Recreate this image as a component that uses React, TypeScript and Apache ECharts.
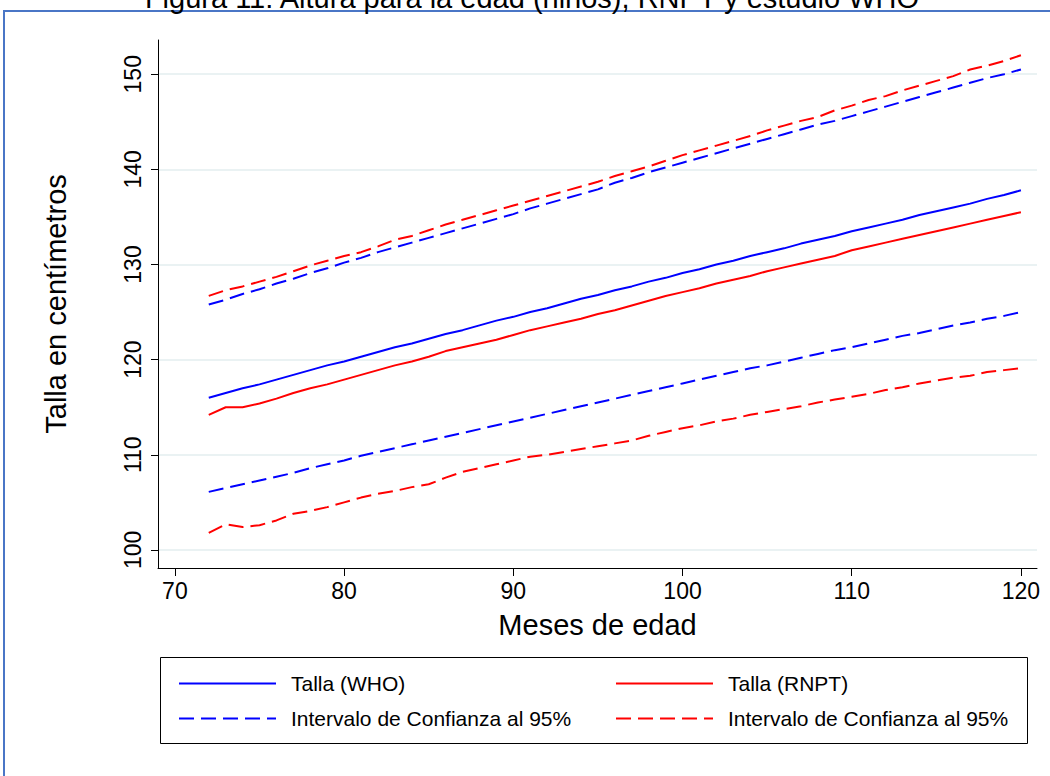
import React, { useEffect, useRef } from "react";
import * as echarts from "echarts";

const FONT = "'Liberation Sans', Arial, Helvetica, sans-serif";

const titleText = "Figura 11: Altura para la edad (niños), RNPT y estudio WHO";
const xAxisName = "Meses de edad";
const yAxisName = "Talla en centímetros";
const xTicks = [70, 80, 90, 100, 110, 120];
const yTicks = [100, 110, 120, 130, 140, 150];

const months = [
  72, 73, 74, 75, 76, 77, 78, 79, 80, 81, 82, 83, 84, 85, 86, 87, 88, 89, 90, 91, 92, 93, 94, 95, 96,
  97, 98, 99, 100, 101, 102, 103, 104, 105, 106, 107, 108, 109, 110, 111, 112, 113, 114, 115, 116,
  117, 118, 119, 120,
];

const whoMedian = [
  116.0, 116.5, 117.0, 117.4, 117.9, 118.4, 118.9, 119.4, 119.8, 120.3, 120.8, 121.3, 121.7, 122.2,
  122.7, 123.1, 123.6, 124.1, 124.5, 125.0, 125.4, 125.9, 126.4, 126.8, 127.3, 127.7, 128.2, 128.6,
  129.1, 129.5, 130.0, 130.4, 130.9, 131.3, 131.7, 132.2, 132.6, 133.0, 133.5, 133.9, 134.3, 134.7,
  135.2, 135.6, 136.0, 136.4, 136.9, 137.3, 137.8,
];

const rnptMedian = [
  114.2, 115.0, 115.0, 115.4, 115.9, 116.5, 117.0, 117.4, 117.9, 118.4, 118.9, 119.4, 119.8, 120.3,
  120.9, 121.3, 121.7, 122.1, 122.6, 123.1, 123.5, 123.9, 124.3, 124.8, 125.2, 125.7, 126.2, 126.7,
  127.1, 127.5, 128.0, 128.4, 128.8, 129.3, 129.7, 130.1, 130.5, 130.9, 131.5, 131.9, 132.3, 132.7,
  133.1, 133.5, 133.9, 134.3, 134.7, 135.1, 135.5,
];

const whoUpper = [
  125.8, 126.3, 126.9, 127.4, 128.0, 128.5, 129.1, 129.6, 130.2, 130.7, 131.3, 131.8, 132.3, 132.8,
  133.3, 133.8, 134.3, 134.8, 135.3, 135.9, 136.4, 136.9, 137.4, 137.9, 138.6, 139.1, 139.7, 140.2,
  140.7, 141.2, 141.7, 142.2, 142.7, 143.2, 143.7, 144.2, 144.7, 145.1, 145.6, 146.1, 146.6, 147.1,
  147.6, 148.1, 148.6, 149.1, 149.6, 150.0, 150.5,
];

const whoLower = [
  106.1, 106.5, 106.9, 107.3, 107.7, 108.1, 108.6, 109.0, 109.4, 109.9, 110.3, 110.7, 111.1, 111.5,
  111.9, 112.3, 112.7, 113.1, 113.5, 113.9, 114.3, 114.7, 115.1, 115.5, 115.9, 116.3, 116.7, 117.1,
  117.5, 117.9, 118.3, 118.7, 119.1, 119.4, 119.8, 120.2, 120.6, 121.0, 121.3, 121.7, 122.1, 122.5,
  122.8, 123.2, 123.6, 123.9, 124.3, 124.6, 125.0,
];

const rnptUpper = [
  126.7, 127.3, 127.7, 128.2, 128.7, 129.3, 129.9, 130.4, 130.9, 131.3, 131.9, 132.6, 133.0, 133.6,
  134.2, 134.7, 135.2, 135.7, 136.2, 136.7, 137.2, 137.7, 138.2, 138.7, 139.3, 139.8, 140.3, 140.9,
  141.5, 142.0, 142.5, 143.0, 143.5, 144.1, 144.6, 145.1, 145.5, 146.2, 146.7, 147.3, 147.7, 148.3,
  148.8, 149.3, 149.8, 150.5, 150.9, 151.4, 152.0,
];

const rnptLower = [
  101.8, 102.7, 102.4, 102.6, 103.1, 103.8, 104.1, 104.5, 105.0, 105.5, 105.9, 106.2, 106.6, 106.9,
  107.6, 108.2, 108.6, 109.0, 109.4, 109.8, 110.0, 110.3, 110.6, 110.9, 111.2, 111.5, 112.0, 112.4,
  112.8, 113.1, 113.5, 113.8, 114.2, 114.5, 114.8, 115.1, 115.5, 115.8, 116.1, 116.4, 116.8, 117.1,
  117.5, 117.8, 118.1, 118.3, 118.7, 118.9, 119.1,
];

const nameWHO = "Talla (WHO)";
const nameRNPT = "Talla (RNPT)";
const nameCIWHO = "Intervalo de Confianza al 95%";
const nameCIRNPT = "Intervalo de Confianza al 95% ";

const BLUE = "#0000ff";
const RED = "#ff0000";
const DASH = [15, 7];

function pairs(vals: number[]) {
  return months.map((m, i) => [m, vals[i]]);
}

function lineSeries(name: string, vals: number[], color: string, dashed: boolean) {
  return {
    name,
    type: "line",
    data: pairs(vals),
    symbol: "none",
    showSymbol: false,
    smooth: false,
    color,
    lineStyle: { color, width: 2, type: dashed ? DASH : "solid" },
    z: 3,
    silent: true,
  };
}

export default function App() {
  const ref = useRef<HTMLDivElement>(null);

  useEffect(() => {
    const chart = echarts.init(ref.current!, null, { renderer: "svg" });
    const legendCommon = {
      orient: "horizontal",
      padding: 0,
      itemWidth: 97,
      itemHeight: 14,
      itemStyle: { opacity: 0 },
      lineStyle: { width: 2 },
      textStyle: { fontFamily: FONT, fontSize: 21, color: "#000", padding: [0, 0, 0, 10] },
      formatter: (n: string) => n.trim(),
      selectedMode: false,
    };
    const option = {
      animation: false,
      backgroundColor: "#ffffff",
      textStyle: { fontFamily: FONT },
      grid: { left: 158, right: 13, top: 40, bottom: 208, containLabel: false },
      xAxis: {
        type: "value",
        min: 69,
        max: 120.95,
        name: xAxisName,
        nameLocation: "middle",
        nameGap: 42,
        nameTextStyle: { fontFamily: FONT, fontSize: 29, color: "#000" },
        axisLine: { show: true, lineStyle: { color: "#000", width: 1 } },
        axisTick: { show: true, length: 8, customValues: xTicks, lineStyle: { color: "#000" } },
        axisLabel: {
          customValues: xTicks,
          margin: 11,
          fontFamily: FONT,
          fontSize: 23,
          color: "#000",
        },
        splitLine: { show: false },
      },
      yAxis: {
        type: "value",
        min: 98.1,
        max: 153.6,
        name: yAxisName,
        nameLocation: "middle",
        nameGap: 88,
        nameTextStyle: { fontFamily: FONT, fontSize: 29, color: "#000" },
        axisLine: { show: true, lineStyle: { color: "#000", width: 1 } },
        axisTick: { show: true, length: 7, customValues: yTicks, lineStyle: { color: "#000" } },
        axisLabel: {
          customValues: yTicks,
          rotate: 90,
          margin: 14,
          fontFamily: FONT,
          fontSize: 23,
          color: "#000",
        },
        splitLine: { show: true, lineStyle: { color: "#eaf2f3", width: 2 } },
      },
      legend: [
        { ...legendCommon, data: [nameWHO], left: 178, top: 673 },
        { ...legendCommon, data: [nameRNPT], left: 615, top: 673 },
        { ...legendCommon, data: [nameCIWHO], left: 178, top: 708 },
        { ...legendCommon, data: [nameCIRNPT], left: 615, top: 708 },
      ],
      graphic: [
        {
          type: "rect",
          silent: true,
          shape: { x: 4, y: 11, width: 1200, height: 900 },
          style: { fill: "none", stroke: "#4a76c6", lineWidth: 2 },
          z: 0,
        },
        {
          type: "rect",
          silent: true,
          shape: { x: 160.5, y: 657.5, width: 867, height: 86 },
          style: { fill: "none", stroke: "#000", lineWidth: 1 },
          z: 0,
        },
        {
          type: "text",
          silent: true,
          x: 532,
          y: -2,
          style: {
            text: titleText,
            font: `29px ${FONT}`,
            fill: "#000",
            textAlign: "center",
            textVerticalAlign: "middle",
          },
        },
      ],
      series: [
        lineSeries(nameCIWHO, whoUpper, BLUE, true),
        lineSeries(nameCIWHO, whoLower, BLUE, true),
        lineSeries(nameCIRNPT, rnptUpper, RED, true),
        lineSeries(nameCIRNPT, rnptLower, RED, true),
        lineSeries(nameWHO, whoMedian, BLUE, false),
        lineSeries(nameRNPT, rnptMedian, RED, false),
      ],
    };
    chart.setOption(option as any);
    return () => chart.dispose();
  }, []);

  return (
    <div
      ref={ref}
      style={{ position: "fixed", left: 0, top: 0, width: 1050, height: 776, background: "#fff" }}
    />
  );
}
